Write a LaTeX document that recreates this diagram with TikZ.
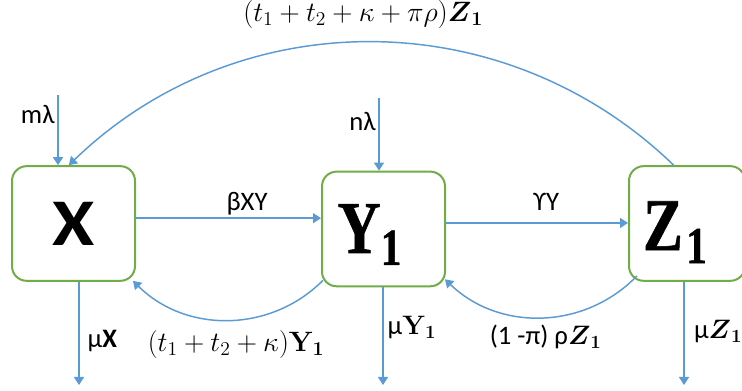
\RequirePackage{fix-cm}
\documentclass[tikz,border=0pt]{standalone}
\usepackage[no-math]{fontspec}
\setmainfont{Carlito}
\newfontfamily\boxserif{Liberation Serif}[BoldFeatures={FakeBold=0.8}]
\usepackage{graphicx}
\usepackage{amsmath}
\usepackage{amssymb}
\usetikzlibrary{arrows.meta, positioning, calc}

\definecolor{boxgreen}{HTML}{70AD47}
\definecolor{flowblue}{HTML}{5B9BD5}

\begin{document}
\begin{tikzpicture}[
  x=0.75pt, y=0.75pt,
  box/.style={
    rectangle,
    draw=boxgreen,
    line width=1.5pt,
    rounded corners=11pt,
    minimum width=92.25pt,
    minimum height=86pt,
    fill=white
  },
  every node/.style={font=\fontsize{20}{24}\selectfont},
  serifbox/.style={box, font=\fontsize{56}{60}\selectfont\boxserif\bfseries},
  lab/.style={inner sep=1pt},
  mlab/.style={inner sep=1pt, font=\fontsize{21}{25}\selectfont},
  arrow/.style={-{Triangle[length=6pt,width=7.5pt]}, draw=flowblue, line width=1.1pt}
]
\useasboundingbox (0,0) rectangle (742,391);

% ------------------------------------------------------------
% Compartments
% ------------------------------------------------------------

\node[box, font=\fontsize{50}{60}\selectfont\bfseries] (x) at (73.5,167.5) {\scalebox{1.15}[1]{X}};
\node[serifbox, right=138.75pt of x, yshift=-4.1pt] (y1)
  {\makebox[0pt]{\raisebox{-18pt}[0pt][0pt]{\scalebox{0.8}[1]{Y\raisebox{-9pt}{\fontsize{39}{40}\selectfont 1}}}\hspace*{21pt}}};
\node[serifbox, right=136.5pt of y1, yshift=4.1pt, minimum width=87pt] (z1)
  {\makebox[0pt]{\raisebox{-20pt}[0pt][0pt]{\scalebox{0.8}[1]{Z\hspace{3pt}\raisebox{-9.75pt}{\fontsize{39}{40}\selectfont 1}}}\hspace*{18pt}}};

% ------------------------------------------------------------
% Recruitment
% ------------------------------------------------------------

\coordinate (xin) at (58,296);
\coordinate (yin) at (379,293);

\draw[arrow] (xin) -- (xin |- x.north) node[lab, pos=0.28, left=1pt] (mlam) {mλ};
\draw[arrow] (yin) -- (yin |- y1.north) node[lab, pos=0.32, left=1pt] (nlam) {nλ};

% ------------------------------------------------------------
% Transfers between compartments
% ------------------------------------------------------------

\draw[arrow] ([yshift=4pt]x.east) -- ([yshift=4pt]x.east -| y1.west)
  node[lab, pos=0.6, above=1pt] (bxy) {βXY};
\draw[arrow] ([yshift=4.5pt]y1.east) -- ([yshift=4.5pt]y1.east -| z1.west)
  node[lab, pos=0.55, above=8pt] (gy) {ϒY};

\draw[arrow] ([shift={(2,7)}]y1.south west) to[bend left=45]
  node[mlab, below=6pt, xshift=6pt] (ylab) {$(t_1+t_2+\kappa)\mathbf{Y}_{\mathbf{1}}$}
  ([shift={(-3,1)}]x.south east);
\draw[arrow] ([shift={(9,6)}]z1.south west) to[bend left=45]
  node[lab, below=4pt, xshift=3pt] (zlab) {(1 -π) ρ$\boldsymbol{Z}_{\mathbf{1}}$}
  ([shift={(-1,8)}]y1.south east);
\draw[arrow] ([xshift=-10]z1.north) to[bend right=44]
  node[mlab, above=9pt, xshift=-6pt] (toplab) {$(t_1+t_2+\kappa+\pi\rho)\boldsymbol{Z}_{\mathbf{1}}$}
  ([xshift=-3.5]x.north);

% ------------------------------------------------------------
% Deaths
% ------------------------------------------------------------

\coordinate (xout) at (79,6);
\coordinate (yout) at (383,6);
\coordinate (zout) at (684,6);

\draw[arrow] (x.south -| xout) -- (xout) node[lab, pos=0.57, right=5pt] (mux) {μ\textbf{X}};
\draw[arrow] (y1.south -| yout) -- (yout) node[lab, pos=0.41, right=2pt] (muy) {μ$\mathbf{Y}_{\mathbf{1}}$};
\draw[arrow] (z1.south -| zout) -- (zout) node[lab, pos=0.48, right=6pt] (muz) {μ$\boldsymbol{Z}_{\mathbf{1}}$};

\end{tikzpicture}
\end{document}
